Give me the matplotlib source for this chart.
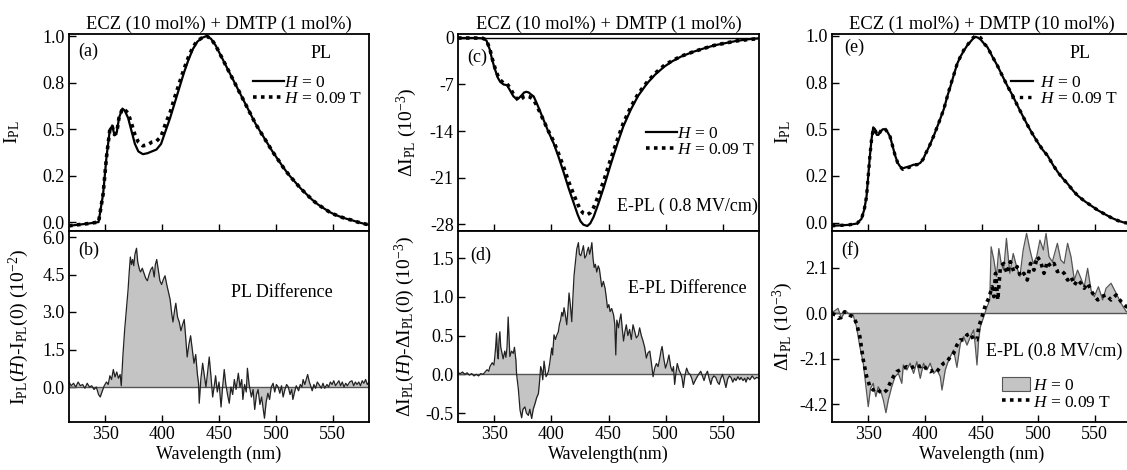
import matplotlib
matplotlib.use("Agg")
import matplotlib.pyplot as plt
from matplotlib.patches import Patch
from matplotlib.lines import Line2D

plt.rcParams['font.family'] = ['Liberation Serif', 'DejaVu Serif']
plt.rcParams['mathtext.fontset'] = 'custom'
plt.rcParams['mathtext.rm'] = 'Liberation Serif'
plt.rcParams['mathtext.it'] = 'Liberation Serif:italic'
plt.rcParams['mathtext.bf'] = 'Liberation Serif:bold'
plt.rcParams['font.size'] = 13
plt.rcParams['axes.unicode_minus'] = False

# ---------------- data ----------------
# (a) PL, ECZ 10% + DMTP 1%
wl_a = [318, 325, 335, 344, 348, 351, 354, 356, 358, 360, 362, 365, 367, 370, 373, 376, 379, 383, 387,
        391, 395, 399, 403, 407, 411, 415, 419, 423, 427, 431, 435, 439, 443, 447, 452, 457, 462, 467,
        472, 477, 482, 487, 492, 497, 502, 507, 512, 517, 522, 527, 532, 537, 542, 547, 552, 557, 562,
        567, 572, 577, 582]
pl_a_h0 = [-0.02, -0.015, -0.008, 0.0, 0.15, 0.35, 0.50, 0.515, 0.47, 0.48, 0.56, 0.61, 0.60, 0.56, 0.49,
           0.42, 0.38, 0.365, 0.37, 0.38, 0.39, 0.42, 0.49, 0.56, 0.64, 0.72, 0.80, 0.87, 0.93, 0.97, 0.99,
           1.0, 0.985, 0.95, 0.89, 0.83, 0.77, 0.71, 0.65, 0.59, 0.53, 0.48, 0.43, 0.38, 0.335, 0.29, 0.25,
           0.215, 0.18, 0.15, 0.12, 0.095, 0.075, 0.055, 0.04, 0.028, 0.018, 0.01, 0.0, -0.008, -0.015]
pl_a_h9 = [-0.02, -0.015, -0.008, 0.0, 0.15, 0.35, 0.50, 0.515, 0.47, 0.48, 0.56, 0.61, 0.605, 0.585, 0.53,
           0.47, 0.43, 0.41, 0.415, 0.43, 0.435, 0.46, 0.53, 0.59, 0.67, 0.745, 0.82, 0.885, 0.94, 0.975, 0.99,
           1.0, 0.985, 0.95, 0.89, 0.83, 0.77, 0.71, 0.65, 0.59, 0.53, 0.48, 0.43, 0.38, 0.335, 0.29, 0.25,
           0.215, 0.18, 0.15, 0.12, 0.095, 0.075, 0.055, 0.04, 0.028, 0.018, 0.01, 0.0, -0.008, -0.015]

# (b) PL difference (1e-2)
wl_b = [318, 320, 322, 324, 326, 328, 330, 332, 334, 336, 338, 340, 342, 344, 345.5, 347, 349, 351, 352.5,
        354, 355.5, 357, 358.5, 360, 361.5, 363, 364, 365.5, 367, 368.5, 370, 371, 372, 373, 374, 375, 376,
        377.4, 378.5, 380, 381, 382.5, 384, 385.5, 387, 388.5, 390, 391.5, 393, 394, 395.2, 396.5, 398,
        399.5, 401, 402.5, 404, 405.5, 407, 408.5, 409.5, 411, 412, 413.5, 415, 416.5, 418, 419.4, 420.5,
        422, 423.5, 425, 426.5, 428, 429.5, 431, 432, 432.6, 434, 435.6, 437, 438.5, 440, 441.4, 443,
        444.4, 446, 447, 448.5, 450, 451.8, 453, 454.6, 456, 457.5, 459, 460.5, 462, 463.5, 465, 467,
        468.5, 470, 471, 472.5, 474, 475, 476.5, 478.5, 480, 481.4, 483, 484.4, 486, 487.5, 489, 490,
        491.5, 493, 494.5, 496, 497.6, 499, 500.5, 502, 503.5, 505, 506.4, 508, 509.5, 511, 512.5, 514,
        515, 516.5, 518, 520, 521.5, 523, 524, 525.5, 527, 528, 529.5, 531, 532, 533.5, 535, 536.5, 538,
        540, 541.5, 543, 545, 546.5, 548, 549.5, 551, 552.5, 554, 555.5, 557, 558.5, 560, 561.5, 563,
        565, 567, 568.5, 570, 571.5, 573, 574.5, 576, 577.5, 579, 580.5, 582]
diff_b = [0.2, 0.05, 0.15, 0.0, 0.2, 0.05, 0.1, -0.05, 0.15, 0.0, 0.05, -0.1, 0.0, -0.3, -0.4, -0.2, 0.05,
          0.2, 0.1, 0.45, 0.3, 0.7, 0.4, 0.6, 0.35, 0.5, 0.05, 1.3, 2.3, 3.1, 3.9, 4.6, 5.2, 4.9, 5.1, 4.85,
          5.3, 5.55, 5.0, 4.7, 4.6, 4.75, 4.55, 4.35, 4.25, 4.5, 4.7, 4.8, 4.4, 4.9, 5.1, 4.7, 4.25, 4.1,
          4.3, 4.45, 4.1, 3.8, 3.5, 2.9, 2.6, 3.1, 3.35, 2.8, 2.6, 2.25, 2.5, 2.7, 2.1, 1.2, 1.7, 2.05, 1.5,
          0.95, 1.3, 0.5, 0.15, -0.65, 0.3, 0.95, 0.5, 0.0, 0.6, 1.2, 0.4, -0.4, 0.1, 0.45, -0.2, 0.2, -0.8,
          -0.1, 0.7, 0.1, -0.3, -0.65, 0.0, -0.3, 0.3, -0.1, 0.55, 0.0, 0.3, -0.5, 0.1, -0.2, 0.75, 0.1,
          -0.4, -0.1, -0.9, -0.3, -0.1, -0.7, -0.4, -0.9, -1.25, -0.6, -0.25, -0.5, 0.0, 0.15, -0.2, 0.1,
          0.0, -0.25, 0.05, -0.4, -0.1, 0.1, 0.0, -0.3, -0.1, -0.5, -0.2, 0.05, -0.15, 0.1, 0.0, 0.3, 0.1,
          0.35, 0.5, 0.2, 0.0, -0.15, 0.1, -0.05, 0.2, 0.1, -0.05, 0.15, -0.05, 0.1, 0.0, 0.2, 0.1, 0.25,
          0.05, 0.15, 0.25, 0.05, 0.2, 0.0, 0.15, 0.05, 0.2, 0.25, 0.05, 0.2, 0.1, 0.2, 0.05, 0.25, 0.15,
          0.3, 0.1, 0.2]

# (c) E-PL, Delta I (1e-3)
wl_c = [318, 325, 333, 340, 343, 346, 348, 350.6, 353, 355, 358, 361, 364, 366.7, 369, 371, 374, 376, 378,
        380, 382, 384.4, 388, 393, 397, 402, 406, 411, 415, 419.6, 423, 425.5, 428, 431.4, 434, 437, 441,
        446, 452, 457.8, 463, 469.5, 476, 484, 491, 499, 506, 513.6, 524, 534, 543, 551.7, 562, 572, 582]
dI_c_h0 = [0.0, 0.0, 0.0, -0.05, -0.4, -1.8, -3.3, -4.8, -6.0, -6.6, -7.0, -7.1, -8.0, -8.8, -9.1, -9.1,
           -8.6, -8.2, -8.1, -8.2, -8.5, -8.8, -10.2, -12.3, -14.0, -15.9, -17.8, -20.4, -22.6, -24.9,
           -26.6, -27.6, -28.1, -28.3, -27.9, -26.9, -25.0, -22.4, -19.0, -15.9, -13.3, -10.8, -8.7, -6.8,
           -5.5, -4.3, -3.5, -2.8, -2.1, -1.55, -1.1, -0.8, -0.45, -0.2, -0.05]
dI_c_h9 = [0.0, 0.0, 0.0, -0.05, -0.35, -1.7, -3.1, -4.6, -5.7, -6.3, -6.8, -6.9, -7.6, -8.5, -9.0, -9.4,
           -9.1, -8.8, -8.7, -8.8, -9.0, -9.3, -10.5, -12.4, -13.9, -15.6, -17.3, -19.6, -21.6, -23.6,
           -25.0, -25.9, -26.4, -26.6, -26.3, -25.5, -23.8, -21.4, -18.2, -15.3, -12.8, -10.4, -8.4, -6.6,
           -5.3, -4.1, -3.4, -2.75, -2.1, -1.55, -1.1, -0.8, -0.45, -0.25, -0.1]

# (d) E-PL difference (1e-3)
wl_d = [318, 320, 322, 324, 326, 328, 330, 332, 334, 336, 338, 340, 341.8, 343.5, 345, 346, 348, 349.5,
        350.3, 351, 351.8, 352.5, 353.3, 354, 354.7, 355.5, 356.5, 357.6, 359, 360, 361, 362, 363, 363.5,
        365, 366.5, 367.5, 368.8, 369.4, 371, 372.4, 373.8, 375, 376.7, 378, 379.7, 381, 382.6, 384,
        385.5, 387, 388.5, 389.5, 390.5, 391.5, 392.3, 393.5, 394.5, 395.2, 396.3, 397.3, 398.5, 400.2,
        401, 402.2, 403.5, 404.5, 406, 407, 408, 409, 410, 411, 412, 413.4, 414.5, 415.4, 416.5, 417.8,
        418.8, 419.8, 421, 422.2, 423.6, 424.5, 425.7, 427, 428, 429.2, 430.4, 431.5, 432.4, 433.5,
        434.5, 435.4, 436.4, 437.4, 438.5, 439.7, 441, 442, 443, 444.1, 445.5, 447, 448, 449.1, 450.3,
        451.4, 452.8, 454.4, 455.5, 456.4, 457.3, 458.8, 459.8, 460.9, 462, 463.2, 464.4, 465.6, 467,
        468.5, 470, 471.5, 473, 474.4, 476, 477.3, 478.8, 480.3, 481.7, 483.2, 484.7, 486.2, 487.6,
        489.1, 490.5, 492, 493.5, 495, 496, 497, 498.5, 500, 501.5, 503, 504.5, 505.9, 507, 508, 509,
        510.3, 512, 513.3, 514.5, 515.6, 517, 518.5, 520, 521.5, 523, 524.4, 526, 527.4, 529, 530.9,
        532.3, 533.8, 535.3, 536.8, 538.2, 539.7, 541, 542.5, 544.1, 545.6, 547.1, 548.5, 550, 551.5,
        553, 554.5, 556, 557.4, 559, 560.5, 561.8, 563.5, 565, 566.2, 568, 569.5, 570.6, 572, 574, 576,
        578, 580, 582]
diff_d = [0.02, 0.01, 0.03, 0.0, 0.02, -0.01, 0.01, -0.02, 0.0, -0.02, 0.01, 0.0, 0.03, 0.06, 0.04, 0.1,
          0.15, 0.12, 0.23, 0.35, 0.53, 0.3, 0.2, 0.45, 0.55, 0.35, 0.28, 0.2, 0.3, 0.22, 0.35, 0.74, 0.4,
          0.23, 0.3, 0.27, 0.35, 0.18, 0.0, -0.2, -0.46, -0.56, -0.45, -0.42, -0.5, -0.53, -0.45, -0.57,
          -0.45, -0.38, -0.3, -0.25, -0.1, 0.1, 0.05, -0.07, 0.17, 0.05, -0.03, 0.0, 0.04, 0.15, 0.34,
          0.25, 0.51, 0.45, 0.5, 0.55, 0.65, 0.7, 0.8, 0.75, 0.86, 0.78, 0.64, 0.85, 1.05, 0.9, 0.68, 1.0,
          1.28, 1.45, 1.62, 1.7, 1.55, 1.53, 1.6, 1.66, 1.5, 1.53, 1.6, 1.64, 1.55, 1.62, 1.7, 1.5, 1.38,
          1.42, 1.32, 1.4, 1.36, 1.25, 1.13, 1.2, 1.11, 1.0, 0.86, 0.9, 0.81, 0.85, 0.77, 0.65, 0.25, 0.7,
          0.6, 0.7, 0.78, 0.6, 0.43, 0.55, 0.64, 0.5, 0.58, 0.45, 0.64, 0.55, 0.47, 0.5, 0.6, 0.5, 0.43,
          0.35, 0.21, 0.28, 0.3, 0.15, -0.03, 0.08, 0.14, 0.1, 0.21, 0.3, 0.36, 0.2, 0.08, 0.15, 0.25,
          0.1, 0.04, 0.1, -0.13, 0.0, 0.14, 0.05, 0.01, -0.05, -0.17, -0.02, 0.08, 0.02, 0.0, -0.05,
          -0.13, -0.08, -0.04, 0.0, 0.04, -0.02, -0.08, 0.0, 0.04, -0.05, -0.13, -0.05, -0.02, -0.04,
          -0.1, -0.13, -0.05, 0.0, -0.08, -0.17, -0.06, -0.02, -0.04, -0.1, -0.05, -0.08, -0.03, -0.07,
          -0.04, -0.08, -0.05, -0.1, -0.04, -0.07, -0.02, -0.06, -0.04, -0.05]

# (e) PL, ECZ 1% + DMTP 10%
wl_e = [318, 325, 333, 340, 344, 346.5, 348.5, 350, 351.5, 353, 354.4, 356, 357.5, 359, 361, 363, 365, 367,
        369.3, 371.5, 373.7, 376, 378.2, 380.5, 382.6, 386, 390, 393, 396, 398.5, 400.4, 404, 407.8, 412,
        416.7, 420, 422.6, 425.5, 428.5, 431.5, 434.4, 437.5, 440.4, 442.5, 444.8, 447, 449.3, 452, 455.2,
        459.5, 464.1, 468.5, 473, 477.5, 481.9, 486.5, 490.8, 495, 499.6, 504, 508.5, 513, 517.4, 522,
        526.3, 531, 535.2, 541, 547, 553, 558.9, 565, 570.7, 576, 582]
pl_e_h0 = [-0.017, -0.015, -0.012, -0.005, 0.02, 0.07, 0.14, 0.25, 0.36, 0.45, 0.51, 0.5, 0.47, 0.47, 0.49,
           0.5, 0.5, 0.485, 0.46, 0.41, 0.36, 0.32, 0.30, 0.29, 0.295, 0.30, 0.31, 0.31, 0.32, 0.34, 0.366,
           0.41, 0.464, 0.53, 0.607, 0.68, 0.73, 0.79, 0.85, 0.89, 0.92, 0.95, 0.97, 0.985, 0.995, 0.99,
           0.98, 0.96, 0.94, 0.89, 0.84, 0.785, 0.73, 0.68, 0.625, 0.57, 0.52, 0.475, 0.43, 0.39, 0.357,
           0.31, 0.27, 0.235, 0.206, 0.17, 0.143, 0.115, 0.09, 0.065, 0.045, 0.025, 0.01, 0.0, -0.005]
pl_e_h9 = [-0.017, -0.015, -0.012, -0.005, 0.02, 0.07, 0.14, 0.25, 0.36, 0.45, 0.50, 0.5, 0.47, 0.47, 0.49,
           0.505, 0.5, 0.485, 0.46, 0.41, 0.36, 0.32, 0.30, 0.285, 0.295, 0.295, 0.31, 0.31, 0.32, 0.34, 0.366,
           0.41, 0.464, 0.53, 0.607, 0.68, 0.735, 0.79, 0.85, 0.89, 0.925, 0.95, 0.975, 0.99, 1.0, 0.995,
           0.99, 0.96, 0.94, 0.89, 0.84, 0.785, 0.73, 0.68, 0.625, 0.57, 0.52, 0.475, 0.43, 0.39, 0.357,
           0.31, 0.27, 0.235, 0.206, 0.17, 0.143, 0.115, 0.09, 0.065, 0.045, 0.025, 0.01, 0.0, -0.005]

# (f) E-PL, Delta I (1e-3)
wl_f0 = [318, 320, 323.3, 326.3, 328.5, 331, 333.5, 336.7, 339.6, 342.6, 345.6, 348, 350, 352, 354.4,
         356.7, 358.8, 361.2, 363.3, 365.6, 367.7, 370.7, 373.6, 376.6, 379.6, 381, 384, 387, 390, 392.9,
         395.9, 398.8, 401.8, 404.7, 407.7, 410.7, 413.6, 415.1, 418, 420, 422.4, 425.4, 428.3, 431.3,
         434.2, 437.2, 440.2, 443.1, 444.5, 446, 447.5, 449, 452, 455, 457.3, 458.5, 460.9, 463.2, 465.3,
         467.4, 469.6, 472, 475, 478, 481, 483.9, 486.8, 489.8, 492.8, 495.7, 498.7, 501.6, 504.6, 507,
         509.6, 512.6, 517, 520, 523, 526, 529, 532, 534.8, 537.8, 540.7, 543.7, 546.7, 549.6, 553.2, 557,
         560, 564.4, 568.9, 573.3, 577.8, 582]
dI_f_h0 = [0.07, 0.1, 0.23, -0.23, 0.0, 0.07, -0.05, -0.08, -0.62, -1.55, -2.31, -3.4, -4.32, -3.47, -3.24,
           -3.86, -3.4, -3.63, -4.01, -4.6, -4.01, -3.4, -2.93, -2.78, -3.24, -2.39, -2.62, -2.31, -2.78,
           -2.24, -3.01, -2.31, -2.62, -2.31, -2.78, -2.62, -2.93, -3.55, -2.62, -2.31, -2.01, -1.7, -2.5,
           -1.39, -1.08, -1.47, -1.08, -0.77, -1.5, -2.39, -1.2, -0.62, -0.15, 0.31, 0.62, 3.08, 2.47, 1.7,
           3.0, 2.31, 2.0, 3.47, 1.85, 2.77, 2.16, 1.7, 2.93, 3.7, 2.93, 2.31, 2.62, 3.39, 2.93, 3.7, 2.62,
           2.39, 3.24, 2.47, 2.31, 3.24, 2.62, 1.54, 2.0, 1.62, 1.23, 2.08, 1.08, 0.77, 1.23, 0.62, 1.16,
           1.39, 0.93, 0.46, 0.08, 0.0]
wl_f9 = [318, 321, 323.5, 326, 329, 331, 334, 336.7, 339.6, 342.6, 345.6, 348.6, 351.5, 354.4, 357.4,
         360.4, 363.3, 366.3, 369.2, 372.2, 375.2, 378.2, 381, 384, 387, 390, 392.9, 395.9, 398.8, 401.8,
         404.7, 407.7, 410.7, 413.6, 416.6, 419.6, 422.4, 425.4, 428.3, 431.3, 434.2, 437.2, 440.2, 443.1,
         446, 447.6, 450.5, 453.5, 456.4, 459.4, 460.9, 462.4, 464.4, 466.7, 469.6, 472.6, 475.5, 478.5,
         481.5, 484.4, 487.4, 490.4, 493.3, 496.3, 499.3, 502.2, 505.2, 508.1, 511.1, 514, 517, 520, 523,
         526, 529, 532, 534.8, 537.8, 540.7, 543.7, 548.1, 552.6, 555.6, 560, 564.4, 568.9, 573.3, 577.8,
         582]
dI_f_h9 = [0.0, -0.08, -0.23, -0.2, 0.07, 0.05, -0.1, -0.15, -0.46, -1.08, -2.16, -2.93, -3.4, -3.55,
           -3.47, -3.63, -3.7, -3.55, -3.24, -2.93, -2.7, -2.62, -2.55, -2.47, -2.55, -2.47, -2.39, -2.47,
           -2.39, -2.62, -2.7, -2.62, -2.7, -2.47, -2.31, -2.24, -2.01, -1.85, -1.47, -1.23, -1.23, -1.0,
           -0.93, -1.23, -1.23, -0.62, -0.15, 0.39, 0.7, 1.23, 0.77, 1.85, 0.62, 2.16, 2.31, 1.85, 2.39,
           1.93, 2.16, 1.7, 1.85, 1.54, 2.31, 2.0, 2.62, 2.39, 1.85, 2.39, 2.16, 2.31, 1.93, 2.0, 1.85, 1.54,
           1.7, 1.31, 1.54, 1.39, 1.16, 1.39, 0.93, 0.62, 0.77, 0.85, 0.62, 0.85, 0.54, 0.31, 0.25]

xticks = [350, 400, 450, 500, 550]
titles = ["ECZ (10 mol%) + DMTP (1 mol%)", "ECZ (10 mol%) + DMTP (1 mol%)", "ECZ (1 mol%) + DMTP (10 mol%)"]

# ---------------- figure ----------------
W, H = 1127, 470
fig = plt.figure(figsize=(W / 100, H / 100), dpi=100)


def add(x0, y0, x1, y1):
    return fig.add_axes([x0 / W, 1 - y1 / H, (x1 - x0) / W, (y1 - y0) / H])


ax_a = add(69, 34, 369, 231)
ax_b = add(69, 231, 369, 422)
ax_c = add(458, 34, 759, 231)
ax_d = add(458, 231, 759, 422)
ax_e = add(832, 34, 1131, 231)
ax_f = add(832, 231, 1131, 422)

FS = 13
YL = 14
for ax in [ax_a, ax_b, ax_c, ax_d, ax_e, ax_f]:
    ax.set_xlim(318, 582)
    ax.set_xticks(xticks)
    ax.tick_params(direction='in', length=5, width=1.0, labelsize=FS, pad=3)
    for s in ax.spines.values():
        s.set_linewidth(1.3)
for ax in [ax_a, ax_c, ax_e]:
    ax.tick_params(labelbottom=False)

FILL = '#c4c4c4'
dot_kw = dict(color='black', lw=2.6, ls=(0, (1, 1.2)))
leg_kw = dict(frameon=False, labelspacing=0.0, fontsize=12.5, borderaxespad=0, loc='upper left')

# (a)
ax_a.plot(wl_a, pl_a_h0, color='black', lw=1.6)
ax_a.plot(wl_a, pl_a_h9, **dot_kw)
ax_a.set_ylim(-0.048, 1.011)
ax_a.set_yticks([0, 0.25, 0.5, 0.75, 1.0])
ax_a.set_yticklabels(['0.0', '0.2', '0.5', '0.8', '1.0'])
ax_a.set_ylabel(r'I$_{\rm PL}$', fontsize=YL)
ax_a.yaxis.set_label_coords(-0.157, 0.5)
ax_a.set_title(titles[0], fontsize=13.3, pad=4)
ax_a.text(0.03, 0.91, '(a)', transform=ax_a.transAxes, va='center', fontsize=FS)
ax_a.text(0.84, 0.9, 'PL', transform=ax_a.transAxes, va='center', ha='center', fontsize=FS)
h1 = Line2D([], [], color='black', lw=1.6)
h2 = Line2D([], [], **dot_kw)
ax_a.legend([h1, h2], ['$H$ = 0', '$H$ = 0.09 T'], bbox_to_anchor=(0.59, 0.83),
            handlelength=1.8, handletextpad=0.0, **leg_kw)

# (b)
ax_b.fill_between(wl_b, diff_b, 0, color=FILL, lw=0)
ax_b.axhline(0, color='#555555', lw=1.0)
ax_b.plot(wl_b, diff_b, color='#222222', lw=0.9)
ax_b.set_ylim(-1.4, 6.24)
ax_b.set_yticks([0, 1.5, 3.0, 4.5, 6.0])
ax_b.set_yticklabels(['0.0', '1.5', '3.0', '4.5', '6.0'])
ax_b.set_ylabel(r'I$_{\rm PL}$($H$)-I$_{\rm PL}$(0) (10$^{-2}$)', fontsize=YL)
ax_b.yaxis.set_label_coords(-0.125, 0.5)
ax_b.set_xlabel('Wavelength (nm)', labelpad=2, fontsize=FS)
ax_b.text(0.03, 0.9, '(b)', transform=ax_b.transAxes, va='center', fontsize=FS)
ax_b.text(0.54, 0.68, 'PL Difference', transform=ax_b.transAxes, va='center', ha='left', fontsize=FS)

# (c)
ax_c.axhline(0, color='black', lw=1.0)
ax_c.plot(wl_c, dI_c_h0, color='black', lw=1.6)
ax_c.plot(wl_c, dI_c_h9, **dot_kw)
ax_c.set_ylim(-29.05, 0.6)
ax_c.set_yticks([0, -7, -14, -21, -28])
ax_c.set_ylabel(r'$\Delta$I$_{\rm PL}$ (10$^{-3}$)', fontsize=YL)
ax_c.yaxis.set_label_coords(-0.128, 0.5)
ax_c.set_title(titles[1], fontsize=13.3, pad=4)
ax_c.text(0.03, 0.88, '(c)', transform=ax_c.transAxes, va='center', fontsize=FS)
ax_c.legend([h1, h2], ['$H$ = 0', '$H$ = 0.09 T'], bbox_to_anchor=(0.6, 0.57),
            handlelength=1.8, handletextpad=0.0, **leg_kw)
ax_c.text(0.995, 0.125, 'E-PL ( 0.8 MV/cm)', transform=ax_c.transAxes, va='center', ha='right', fontsize=FS)

# (d)
ax_d.fill_between(wl_d, diff_d, 0, color=FILL, lw=0)
ax_d.axhline(0, color='#555555', lw=1.0)
ax_d.plot(wl_d, diff_d, color='#222222', lw=0.9)
ax_d.set_ylim(-0.615, 1.85)
ax_d.set_yticks([-0.5, 0.0, 0.5, 1.0, 1.5])
ax_d.set_yticklabels(['-0.5', '0.0', '0.5', '1.0', '1.5'])
ax_d.set_ylabel(r'$\Delta$I$_{\rm PL}$($H$)-$\Delta$I$_{\rm PL}$(0) (10$^{-3}$)', fontsize=YL)
ax_d.yaxis.set_label_coords(-0.136, 0.5)
ax_d.set_xlabel('Wavelength(nm)', labelpad=2, fontsize=FS)
ax_d.text(0.04, 0.87, '(d)', transform=ax_d.transAxes, va='center', fontsize=FS)
ax_d.text(0.565, 0.7, 'E-PL Difference', transform=ax_d.transAxes, va='center', ha='left', fontsize=FS)

# (e)
ax_e.plot(wl_e, pl_e_h0, color='black', lw=1.6)
ax_e.plot(wl_e, pl_e_h9, color='black', lw=2.4, ls=(0, (1, 1.5)))
ax_e.set_ylim(-0.045, 1.01)
ax_e.set_yticks([0, 0.25, 0.5, 0.75, 1.0])
ax_e.set_yticklabels(['0.0', '0.2', '0.5', '0.8', '1.0'])
ax_e.set_ylabel(r'I$_{\rm PL}$', fontsize=YL)
ax_e.yaxis.set_label_coords(-0.13, 0.5)
ax_e.set_title(titles[2], fontsize=13.3, pad=4)
ax_e.text(0.04, 0.93, '(e)', transform=ax_e.transAxes, va='center', fontsize=FS)
ax_e.text(0.83, 0.9, 'PL', transform=ax_e.transAxes, va='center', ha='center', fontsize=FS)
h3 = Line2D([], [], color='black', lw=2.4, ls=(0, (1, 1.5)))
ax_e.legend([h1, h3], ['$H$ = 0', '$H$ = 0.09 T'], bbox_to_anchor=(0.575, 0.83),
            handlelength=1.3, handletextpad=0.4, **leg_kw)

# (f)
ax_f.fill_between(wl_f0, dI_f_h0, 0, color=FILL, lw=0)
ax_f.axhline(0, color='#555555', lw=1.0)
ax_f.plot(wl_f0, dI_f_h0, color='#555555', lw=0.9)
ax_f.plot(wl_f9, dI_f_h9, **dot_kw)
ax_f.set_ylim(-5.03, 3.81)
ax_f.set_yticks([-4.2, -2.1, 0.0, 2.1])
ax_f.set_yticklabels(['-4.2', '-2.1', '0.0', '2.1'])
ax_f.set_ylabel(r'$\Delta$I$_{\rm PL}$ (10$^{-3}$)', fontsize=YL)
ax_f.yaxis.set_label_coords(-0.124, 0.5)
ax_f.set_xlabel('Wavelength (nm)', labelpad=2, fontsize=FS)
ax_f.text(0.03, 0.9, '(f)', transform=ax_f.transAxes, va='center', fontsize=FS)
ax_f.text(0.97, 0.37, 'E-PL (0.8 MV/cm)', transform=ax_f.transAxes, va='center', ha='right', fontsize=FS)
p1 = Patch(facecolor=FILL, edgecolor='#555555', lw=0.8)
ax_f.legend([p1, h2], ['$H$ = 0', '$H$ = 0.09 T'], bbox_to_anchor=(0.545, 0.27),
            handlelength=1.6, handletextpad=0.2, handleheight=0.8, **leg_kw)

fig.savefig('out.png', dpi=100)
